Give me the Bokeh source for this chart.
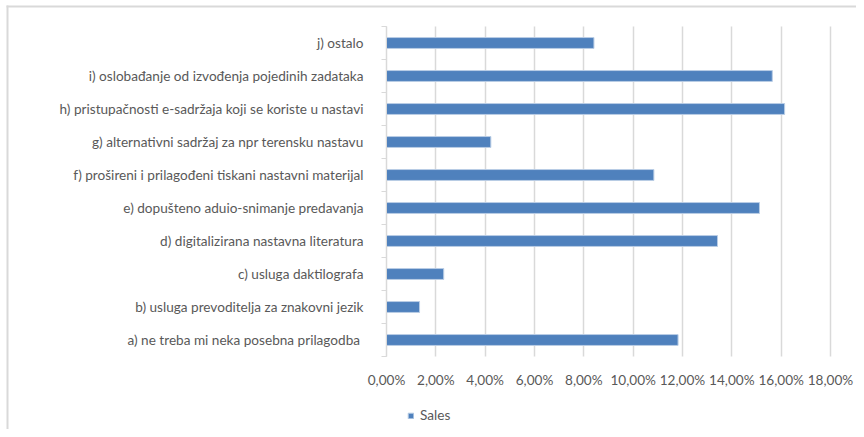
from bokeh.plotting import figure
from bokeh.models import FixedTicker, Legend, LegendItem, ColumnDataSource, BoxAnnotation
from bokeh.embed import file_html
from bokeh.resources import INLINE

categories = [
    "a) ne treba mi neka posebna prilagodba ",
    "b) usluga prevoditelja za znakovni jezik",
    "c) usluga daktilografa",
    "d) digitalizirana nastavna literatura",
    "e) dopušteno aduio-snimanje predavanja",
    "f) prošireni i prilagođeni tiskani nastavni materijal",
    "g) alternativni sadržaj za npr terensku nastavu",
    "h) pristupačnosti e-sadržaja koji se koriste u nastavi",
    "i) oslobađanje od izvođenja pojedinih zadataka",
    "j) ostalo",
]
sales_pct = [11.82, 1.34, 2.32, 13.42, 15.12, 10.84, 4.23, 16.14, 15.64, 8.41]
x_ticks = [0, 2, 4, 6, 8, 10, 12, 14, 16, 18]
x_tick_labels = ["0,00%", "2,00%", "4,00%", "6,00%", "8,00%", "10,00%",
                 "12,00%", "14,00%", "16,00%", "18,00%"]
series_name = "Sales"

FONT = "Lato"
FS = "13.6px"
TXT = "#595959"
GRID = "#d9d9d9"

# layout (pixels): canvas size and where the plotting area sits in it
W, H = 856, 429
PL, PR, PT, PB = 386, 830, 26, 356

n = len(categories)
centres = [2 * i + 1 for i in range(n)]
bounds = [2 * i for i in range(n + 1)]
xmax = x_ticks[-1]
ymax = 2 * n

# ranges chosen so that the data area maps to the pixel box above, while the
# frame fills the whole canvas (so nothing outside the data area gets clipped)
kx = (PR - PL) / xmax
ky = (PB - PT) / ymax
x_range = (-PL / kx, xmax + (W - PR) / kx)
y_range = (-(H - PB) / ky, ymax + PT / ky)

src = ColumnDataSource(dict(y=centres, v=sales_pct))

p = figure(width=W, height=H, output_backend="svg", toolbar_location=None,
           x_range=x_range, y_range=y_range, min_border=0)
p.outline_line_color = None
p.background_fill_color = "white"
p.border_fill_color = "white"

r = p.hbar(y="y", right="v", left=0, height=0.66, source=src,
           fill_color="#4f81bd", line_color="#b9cde5", line_width=1)

# x axis
xa = p.xaxis[0]
xa.fixed_location = 0
xa.ticker = FixedTicker(ticks=x_ticks)
xa.major_label_overrides = {t: l for t, l in zip(x_ticks, x_tick_labels)}
xa.axis_line_color = None
xa.major_tick_line_color = None
xa.minor_tick_line_color = None
xa.major_label_text_font = FONT
xa.major_label_text_font_size = FS
xa.major_label_text_color = TXT
xa.major_label_standoff = 9

# y axis
ya = p.yaxis[0]
ya.fixed_location = 0
ya.bounds = (0, ymax)
ya.ticker = FixedTicker(ticks=centres, minor_ticks=bounds)
ya.major_label_overrides = {c: l for c, l in zip(centres, categories)}
ya.axis_line_color = GRID
ya.major_tick_line_color = None
ya.major_tick_out = 0
ya.major_tick_in = 0
ya.minor_tick_line_color = GRID
ya.minor_tick_out = 5
ya.minor_tick_in = 0
ya.major_label_text_font = FONT
ya.major_label_text_font_size = FS
ya.major_label_text_color = TXT
ya.major_label_standoff = 18

p.xgrid.ticker = FixedTicker(ticks=x_ticks)
p.xgrid.bounds = (0, xmax)
p.xgrid.cross_bounds = (0, ymax)
p.xgrid.grid_line_color = GRID
p.xgrid.grid_line_width = 1.5
p.ygrid.grid_line_color = None

# outer chart-area border: only its left and top edges lie inside the picture
# (screen y for these boxes is counted from the bottom of the canvas)
for l, rr, t, b in [(6, 8, H - 5, 0), (6, W, H - 5, H - 7)]:
    p.add_layout(BoxAnnotation(left=l, right=rr, top=t, bottom=b,
                               left_units="screen", right_units="screen",
                               top_units="screen", bottom_units="screen",
                               fill_color=GRID, fill_alpha=1, line_color=None))

legend = Legend(items=[LegendItem(label=series_name, renderers=[r])],
                location=(407, 6), orientation="horizontal",
                glyph_width=7, glyph_height=7, label_standoff=6,
                padding=0, margin=0, spacing=0,
                label_text_font=FONT, label_text_font_size=FS,
                label_text_color=TXT, label_height=14,
                border_line_color=None, background_fill_alpha=0)
p.add_layout(legend)

open("out.html", "w").write(file_html(p, INLINE))
